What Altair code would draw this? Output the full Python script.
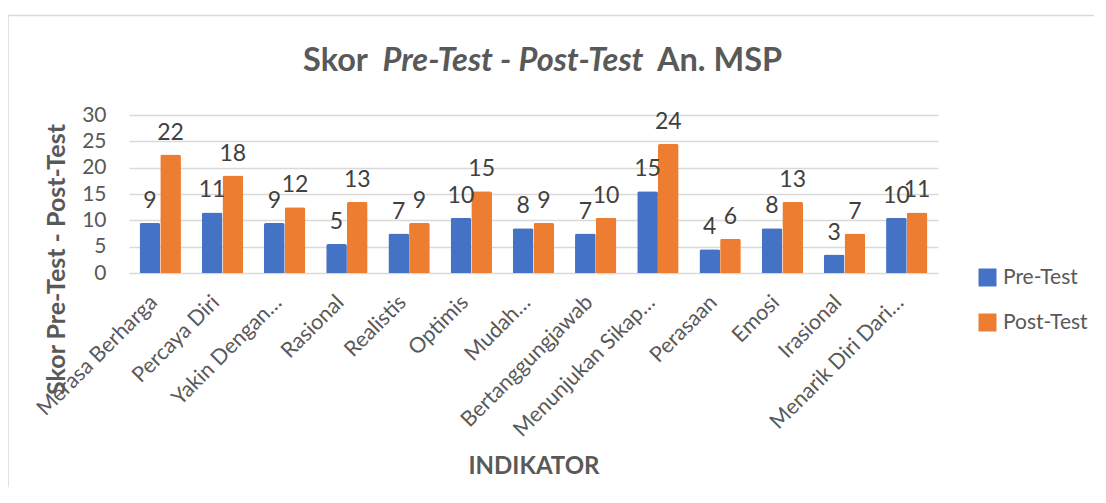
import altair as alt
import pandas as pd

categories = ["Merasa Berharga", "Percaya Diri", "Yakin Dengan…", "Rasional", "Realistis",
              "Optimis", "Mudah…", "Bertanggungjawab", "Menunjukan Sikap…", "Perasaan",
              "Emosi", "Irasional", "Menarik Diri Dari…"]
series = ["Pre-Test", "Post-Test"]
pre_values = [9.5, 11.5, 9.5, 5.5, 7.5, 10.5, 8.5, 7.5, 15.5, 4.5, 8.5, 3.5, 10.5]
post_values = [22.5, 18.5, 12.5, 13.5, 9.5, 15.5, 9.5, 10.5, 24.5, 6.5, 13.5, 7.5, 11.5]
pre_labels = [9, 11, 9, 5, 7, 10, 8, 7, 15, 4, 8, 3, 10]
post_labels = [22, 18, 12, 13, 9, 15, 9, 10, 24, 6, 13, 7, 11]
y_ticks = [0, 5, 10, 15, 20, 25, 30]

rows = []
for i, c in enumerate(categories):
    rows.append({"Indikator": c, "Seri": series[0], "Skor": pre_values[i], "Label": str(pre_labels[i])})
    rows.append({"Indikator": c, "Seri": series[1], "Skor": post_values[i], "Label": str(post_labels[i])})
df = pd.DataFrame(rows)

FONT = "Lato"
GREY = "#595959"
GRID = "#D9D9D9"

x_enc = alt.X(
    "Indikator:N", sort=categories,
    scale=alt.Scale(paddingInner=0.335, paddingOuter=0.17),
    axis=alt.Axis(
        title="INDIKATOR", labelAngle=-45, labelAlign="right", labelBaseline="middle",
        labelPadding=26, labelOffset=-6, labelFontSize=21.5, labelColor=GREY, labelFont=FONT,
        labelLimit=0, ticks=False, domain=False,
        titleFont=FONT, titleFontSize=24, titleFontWeight="bold", titleColor=GREY,
        titleY=193, titleBaseline="middle",
    ),
)
y_enc = alt.Y(
    "Skor:Q", scale=alt.Scale(domain=[0, 30], nice=False),
    axis=alt.Axis(
        values=y_ticks, title="Skor Pre-Test - Post-Test", grid=True, gridColor=GRID,
        gridWidth=1.3, domain=False, ticks=False, labelPadding=23, labelFontSize=21,
        labelColor=GREY, labelFont=FONT,
        titleFont=FONT, titleFontSize=25, titleFontWeight="bold", titleColor=GREY,
        titleX=-60, titleY=144, titleAngle=270, titleBaseline="bottom", titleAlign="center",
    ),
)
xoff = alt.XOffset("Seri:N", sort=series, scale=alt.Scale(paddingInner=0, paddingOuter=0))

base = alt.Chart(df).encode(x=x_enc, y=y_enc, xOffset=xoff)

bars = base.mark_bar(cornerRadiusTopLeft=2, cornerRadiusTopRight=2).encode(
    color=alt.Color(
        "Seri:N", sort=series,
        scale=alt.Scale(domain=series, range=["#4472C4", "#ED7D31"]),
        legend=alt.Legend(
            orient="none", legendX=848, legendY=152, title=None, symbolType="square",
            symbolSize=324, symbolStrokeWidth=0, labelFontSize=21, labelFont=FONT,
            labelColor=GREY, rowPadding=23, labelOffset=5,
        ),
    )
)
labels = base.mark_text(dy=-22, baseline="middle", fontSize=23, font=FONT, color="#404040").encode(
    text="Label:N"
)

one = alt.Data(values=[{"a": 1}])
frame_top = alt.Chart(one).mark_rule(color=GRID, strokeWidth=1.5).encode(
    x=alt.value(-121), x2=alt.value(1000), y=alt.value(-99.5))
frame_left = alt.Chart(one).mark_rule(color=GRID, strokeWidth=1.5).encode(
    x=alt.value(-121), y=alt.value(-99.5), y2=alt.value(400))

t_style = dict(font=FONT, fontSize=32.5, fontWeight="bold", color=GREY, baseline="alphabetic")
t1 = alt.Chart(one).mark_text(align="right", **t_style).encode(
    x=alt.value(239), y=alt.value(-44), text=alt.value("Skor"))
t2 = alt.Chart(one).mark_text(align="center", fontStyle="italic", **t_style).encode(
    x=alt.value(384), y=alt.value(-44), text=alt.value("Pre-Test - Post-Test"))
t3 = alt.Chart(one).mark_text(align="left", **t_style).encode(
    x=alt.value(528), y=alt.value(-44), text=alt.value("An. MSP"))

chart = alt.layer(frame_top, frame_left, t1, t2, t3, bars, labels).properties(
    width=809, height=158, autosize="none",
    padding={"left": 121, "top": 107, "right": 156, "bottom": 214},
).configure_view(stroke=None)

chart.save("out.html", embed_options={"renderer": "svg", "actions": False})
